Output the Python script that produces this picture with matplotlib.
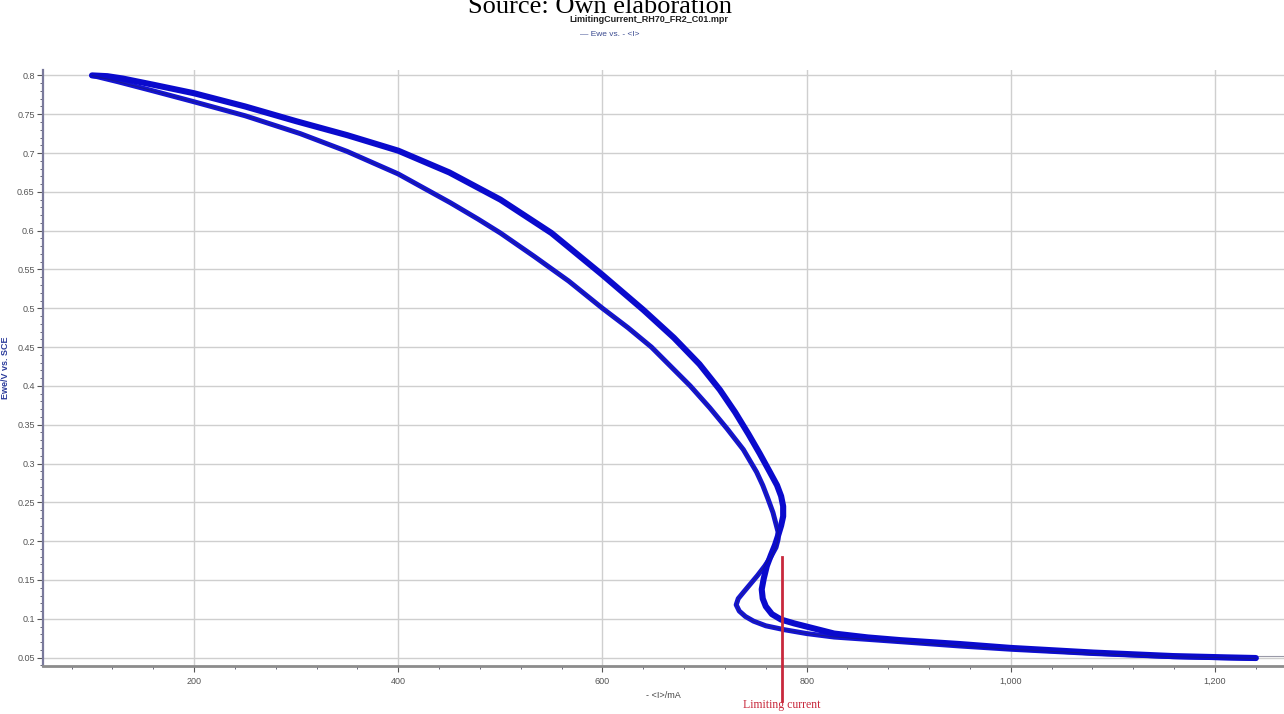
import numpy as np
import matplotlib.pyplot as plt
from matplotlib.ticker import MultipleLocator, FuncFormatter

# sweep towards high current (outer / upper branch)
i_down = [100, 115, 130, 160, 200, 250, 300, 350, 400, 450, 500, 550, 600, 640,
          670, 695, 715, 730, 743, 754, 764, 771, 775, 777, 777, 775, 772, 769,
          765, 761, 758, 756, 757, 760, 766, 775, 788, 800, 827, 860, 892, 950,
          1000, 1081, 1159, 1212, 1240]
e_down = [0.800, 0.799, 0.796, 0.788, 0.777, 0.760, 0.741, 0.723, 0.703, 0.675,
          0.640, 0.597, 0.543, 0.498, 0.462, 0.428, 0.395, 0.366, 0.338, 0.313,
          0.289, 0.272, 0.258, 0.245, 0.232, 0.220, 0.207, 0.195, 0.182, 0.168,
          0.152, 0.138, 0.126, 0.116, 0.106, 0.099, 0.094, 0.090, 0.081, 0.076,
          0.0725, 0.0675, 0.0625, 0.0565, 0.052, 0.0503, 0.0495]

# sweep back (inner / lower branch)
i_up = [1240, 1159, 1081, 1000, 950, 892, 860, 827, 800, 778, 760, 748, 740, 734,
        731, 733, 738, 745, 752, 759, 765, 770, 772, 772, 770, 767, 762, 757,
        751, 738, 722, 705, 686, 667, 648, 625, 600, 567, 533, 500, 478, 451,
        400, 350, 304, 250, 200, 160, 125, 100]
e_up = [0.049, 0.0512, 0.0553, 0.0608, 0.065, 0.0705, 0.0735, 0.0765, 0.081,
        0.086, 0.091, 0.097, 0.103, 0.110, 0.118, 0.126, 0.134, 0.145, 0.156,
        0.168, 0.180, 0.192, 0.202, 0.212, 0.222, 0.237, 0.255, 0.272, 0.289,
        0.318, 0.345, 0.372, 0.400, 0.425, 0.450, 0.475, 0.500, 0.535, 0.567,
        0.597, 0.615, 0.636, 0.673, 0.702, 0.725, 0.748, 0.766, 0.780, 0.792,
        0.800]

i_limit = 775.6
e_limit_top = 0.18

plt.rcParams['font.family'] = ['Liberation Sans', 'DejaVu Sans']

fig = plt.figure(figsize=(12.84, 7.14), dpi=100)
ax = fig.add_axes([0.0335, 0.067, 0.9665, 0.835])

ax.plot(i_up, e_up, color='#1414d2', lw=3.6, solid_joinstyle='round',
        solid_capstyle='round', zorder=3)
ax.plot(i_up, e_up, color='#20205a', lw=0.6, alpha=0.6, zorder=4)
ax.plot(i_down, e_down, color='#0a0acd', lw=4.4, solid_joinstyle='round',
        solid_capstyle='round', zorder=3)
ax.plot([i_down[-1], 1268], [e_down[-1] + 0.0022, e_down[-1] + 0.0022],
        color='#9a9aa8', lw=0.8, zorder=2)

ax.set_xlim(52, 1267.6)
ax.set_ylim(0.039, 0.807)

ax.xaxis.set_major_locator(MultipleLocator(200))
ax.xaxis.set_minor_locator(MultipleLocator(40))
ax.yaxis.set_major_locator(MultipleLocator(0.05))
ax.yaxis.set_minor_locator(MultipleLocator(0.01))
ax.xaxis.set_major_formatter(FuncFormatter(lambda v, p: f'{v:,.0f}'))
ax.yaxis.set_major_formatter(FuncFormatter(lambda v, p: f'{v:.2f}'.rstrip('0').rstrip('.')))

ax.grid(True, which='major', color='#cfcfcf', lw=1.0)
ax.set_axisbelow(True)
for s in ['top', 'right']:
    ax.spines[s].set_visible(False)
ax.spines['left'].set_color('#7a7a9c')
ax.spines['left'].set_linewidth(1.6)
ax.spines['bottom'].set_color('#8c8c8c')
ax.spines['bottom'].set_linewidth(2.0)
ax.tick_params(axis='both', which='major', labelsize=6.5, labelcolor='#555555',
               color='#555555', length=4, width=0.8)
ax.tick_params(axis='y', which='major', pad=2)
ax.tick_params(axis='both', which='minor', color='#666677', length=2, width=0.7)

ax.set_xlabel('- <I>/mA', fontsize=6.5, color='#444444', labelpad=4)
ax.set_ylabel('Ewe/V vs. SCE', fontsize=6.5, color='#2a3a9a', fontweight='bold')
ax.yaxis.set_label_coords(-0.027, 0.5)

# limiting current marker running below the axis
ax.plot([i_limit, i_limit], [e_limit_top, -0.006], color='#c8283c', lw=2.0,
        clip_on=False, zorder=5)
ax.text(i_limit, -0.0115, 'Limiting current', color='#c8283c', fontsize=8.5,
        family=['Liberation Serif'], ha='center', va='center')

fig.text(0.467, 0.982, 'Source: Own elaboration', fontsize=19,
         family=['Liberation Serif'], ha='center', va='baseline')
fig.text(0.505, 0.972, 'LimitingCurrent_RH70_FR2_C01.mpr', fontsize=6.5,
         fontweight='bold', ha='center', va='center', color='#222222')
fig.text(0.475, 0.952, '— Ewe vs. - <I>', fontsize=6, ha='center', va='center',
         color='#3a4a90')

fig.savefig('out.png', dpi=100)
